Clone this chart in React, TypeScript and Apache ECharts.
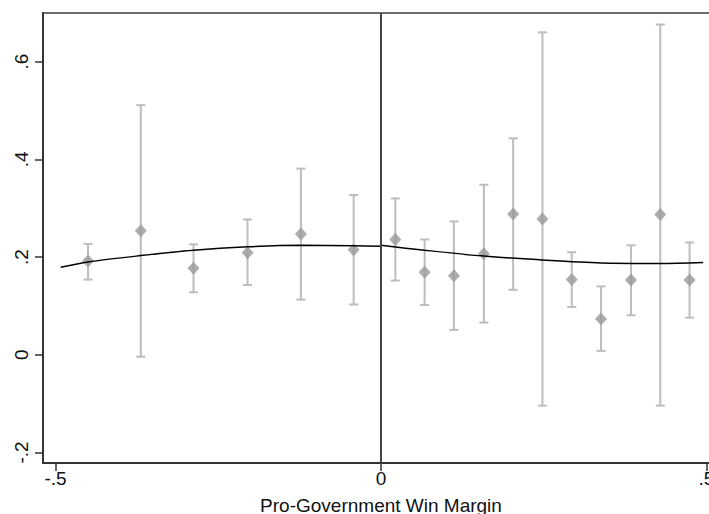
import React, { useEffect, useRef } from "react";
import * as echarts from "echarts";

const binX = [-0.450, -0.369, -0.288, -0.205, -0.123, -0.042, 0.022, 0.067, 0.112, 0.158, 0.203, 0.248, 0.293, 0.338, 0.384, 0.429, 0.474];
const binMean = [0.192, 0.254, 0.177, 0.209, 0.247, 0.215, 0.236, 0.169, 0.162, 0.207, 0.288, 0.278, 0.154, 0.073, 0.153, 0.287, 0.153];
const ciLow = [0.154, -0.004, 0.128, 0.143, 0.113, 0.103, 0.152, 0.102, 0.051, 0.066, 0.133, -0.104, 0.098, 0.008, 0.081, -0.104, 0.076];
const ciHigh = [0.227, 0.511, 0.226, 0.277, 0.381, 0.327, 0.320, 0.236, 0.273, 0.348, 0.443, 0.660, 0.210, 0.140, 0.224, 0.676, 0.230];

const fitLeftX = [-0.492, -0.45, -0.369, -0.288, -0.205, -0.123, -0.042, 0];
const fitLeftY = [0.179, 0.190, 0.203, 0.214, 0.221, 0.224, 0.223, 0.222];
const fitRightX = [0, 0.067, 0.158, 0.248, 0.338, 0.429, 0.495];
const fitRightY = [0.224, 0.214, 0.202, 0.194, 0.188, 0.187, 0.189];

const xTicks = [-0.5, 0, 0.5];
const xTickLabels = ["-.5", "0", ".5"];
const yTicks = [-0.2, 0, 0.2, 0.4, 0.6];
const yTickLabels = ["-.2", "0", ".2", ".4", ".6"];

const FONT = "'Liberation Sans', Arial, sans-serif";

export default function App() {
  const ref = useRef<HTMLDivElement>(null);
  useEffect(() => {
    document.body.style.margin = "0";
    const chart = echarts.init(ref.current!, undefined, { renderer: "svg" });
    const fmtX = (v: number) => {
      const i = xTicks.findIndex((t) => Math.abs(t - v) < 1e-6);
      return i >= 0 ? xTickLabels[i] : "";
    };
    const fmtY = (v: number) => {
      const i = yTicks.findIndex((t) => Math.abs(t - v) < 1e-6);
      return i >= 0 ? yTickLabels[i] : "";
    };
    chart.setOption({
      animation: false,
      backgroundColor: "#ffffff",
      grid: {
        left: 43,
        top: 13,
        width: 676,
        height: 450,
        containLabel: false,
        outerBoundsMode: "none",
        show: true,
        borderColor: "#6e6e6e",
        borderWidth: 2,
        backgroundColor: "transparent",
      },
      xAxis: {
        type: "value",
        min: -0.5192,
        max: 0.5192,
        name: "Pro-Government Win Margin",
        nameLocation: "middle",
        nameGap: 33,
        nameTextStyle: { fontFamily: FONT, fontSize: 19, color: "#111" },
        axisLine: { show: true, onZero: false, lineStyle: { color: "#333", width: 2 } },
        axisTick: { show: true, length: 8, customValues: xTicks, lineStyle: { color: "#333", width: 1.5 } },
        axisLabel: { customValues: xTicks, formatter: fmtX, fontFamily: FONT, fontSize: 19, color: "#111", margin: 6 },
        splitLine: { show: false },
      },
      yAxis: {
        type: "value",
        min: -0.2215,
        max: 0.6996,
        axisLine: { show: true, onZero: false, lineStyle: { color: "#333", width: 2 } },
        axisTick: { show: true, length: 8, customValues: yTicks, lineStyle: { color: "#333", width: 1.5 } },
        axisLabel: { customValues: yTicks, formatter: fmtY, fontFamily: FONT, fontSize: 19, color: "#111", rotate: 90, margin: 12 },
        splitLine: { show: false },
      },
      series: [
        {
          type: "custom",
          name: "ci",
          data: binX.map((x, i) => [x, ciLow[i], ciHigh[i]]),
          renderItem: (params: any, api: any) => {
            const x = api.value(0);
            const lo = api.coord([x, api.value(1)]);
            const hi = api.coord([x, api.value(2)]);
            const w = 4.5;
            const style = { stroke: "#bdbdbd", lineWidth: 2 };
            return {
              type: "group",
              children: [
                { type: "line", shape: { x1: lo[0], y1: lo[1], x2: hi[0], y2: hi[1] }, style },
                { type: "line", shape: { x1: lo[0] - w, y1: lo[1], x2: lo[0] + w, y2: lo[1] }, style },
                { type: "line", shape: { x1: hi[0] - w, y1: hi[1], x2: hi[0] + w, y2: hi[1] }, style },
              ],
            };
          },
          z: 1,
        },
        {
          type: "scatter",
          name: "mean",
          data: binX.map((x, i) => [x, binMean[i]]),
          symbol: "diamond",
          symbolSize: [12, 13],
          itemStyle: { color: "#999999" },
          z: 2,
        },
        {
          type: "line",
          name: "fitLeft",
          data: fitLeftX.map((x, i) => [x, fitLeftY[i]]),
          smooth: 0.3,
          showSymbol: false,
          lineStyle: { color: "#000", width: 1.5 },
          z: 3,
          markLine: {
            silent: true,
            symbol: "none",
            label: { show: false },
            lineStyle: { color: "#444", width: 2, type: "solid" },
            data: [{ xAxis: 0 }],
          },
        },
        {
          type: "line",
          name: "fitRight",
          data: fitRightX.map((x, i) => [x, fitRightY[i]]),
          smooth: 0.3,
          showSymbol: false,
          lineStyle: { color: "#000", width: 1.5 },
          z: 3,
        },
      ],
    });
    return () => chart.dispose();
  }, []);
  return <div ref={ref} style={{ position: "absolute", left: 0, top: 0, width: 709, height: 514 }} />;
}
